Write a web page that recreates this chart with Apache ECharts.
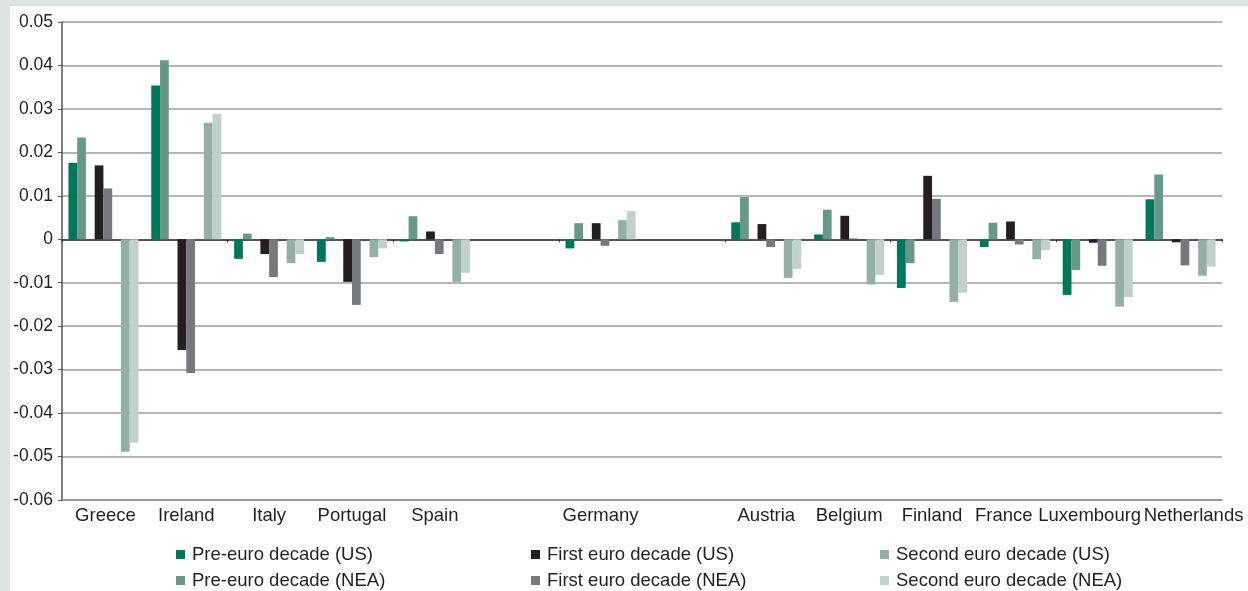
<!DOCTYPE html>
<html>
<head>
<meta charset="utf-8">
<script src="https://cdn.jsdelivr.net/npm/echarts@6/dist/echarts.min.js"></script>
<style>
    html, body { margin: 0; padding: 0; background: #dde4e1; }
    #wrap { position: relative; width: 1248px; height: 591px; background: #dde4e1; overflow: hidden; }
    #chart1 { position: absolute; left: 10px; top: 6px; width: 1238px; height: 585px; background: #ffffff; }
</style>
</head>
<body>
<div id="wrap"><div id="chart1"></div></div>
<script>
// categories ('' = spacer columns in the original layout)
var countries = ['Greece', 'Ireland', 'Italy', 'Portugal', 'Spain', '', 'Germany', '',
    'Austria', 'Belgium', 'Finland', 'France', 'Luxembourg', 'Netherlands'];

// values
var preUS = [0.0176, 0.0354, -0.0045, -0.0052, -0.0005, null, -0.0021, null,
    0.0039, 0.0011, -0.0112, -0.0018, -0.0128, 0.0092];
var preNEA = [0.0234, 0.0412, 0.0013, 0.0005, 0.0053, null, 0.0037, null,
    0.0097, 0.0068, -0.0055, 0.0038, -0.0071, 0.0149];
var firstUS = [0.0170, -0.0255, -0.0034, -0.0098, 0.0018, null, 0.0037, null,
    0.0035, 0.0054, 0.0146, 0.0041, -0.0008, -0.0007];
var firstNEA = [0.0117, -0.0308, -0.0087, -0.0151, -0.0034, null, -0.0015, null,
    -0.0018, 0.0002, 0.0093, -0.0012, -0.0061, -0.0060];
var secondUS = [-0.0489, 0.0268, -0.0055, -0.0041, -0.0098, null, 0.0044, null,
    -0.0089, -0.0104, -0.0144, -0.0046, -0.0155, -0.0084];
var secondNEA = [-0.0468, 0.0288, -0.0034, -0.0021, -0.0077, null, 0.0065, null,
    -0.0068, -0.0082, -0.0123, -0.0025, -0.0133, -0.0063];

var names = ['Pre-euro decade (US)', 'Pre-euro decade (NEA)',
    'First euro decade (US)', 'First euro decade (NEA)',
    'Second euro decade (US)', 'Second euro decade (NEA)'];
var colors = ['#00775a', '#66998a', '#231f20', '#77787b', '#93b0a6', '#c0d0ca'];

var chart1 = echarts.init(document.getElementById('chart1'));
var font = 'Liberation Sans, Arial, sans-serif';

// the last labels sit a bit off their columns in the original
var labelShift = { 'Greece': 'r4', 'France': 'l22', 'Luxembourg': 'l16', 'Netherlands': 'r26' };

function bar(name, data, color) {
    return {
        name: name,
        type: 'bar',
        xAxisIndex: 0,
        data: data,
        barGap: '0%',
        barCategoryGap: '15.5%',
        itemStyle: { color: color }
    };
}
// empty series keep the gap between each pair of bars
function spacer() {
    return { name: 'gap', type: 'bar', xAxisIndex: 0, data: [], barGap: '0%', barCategoryGap: '15.5%' };
}

function legendCol(left, items) {
    return {
        orient: 'vertical',
        left: left,
        top: 539,
        height: 50,
        padding: 0,
        itemWidth: 9,
        itemHeight: 9,
        itemGap: 7,
        icon: 'rect',
        data: items,
        selectedMode: false,
        textStyle: { color: '#231f20', fontSize: 18.5, lineHeight: 18, fontFamily: font, padding: [0, 0, 0, 2] }
    };
}

var richShift = {};
['l16', 'l22', 'r4', 'r26'].forEach(function (k) {
    var n = parseInt(k.slice(1), 10);
    richShift[k] = {
        fontSize: 18.5, fontFamily: font, color: '#231f20',
        padding: k[0] == 'l' ? [0, n, 0, 0] : [0, 0, 0, n]
    };
});

var option = {
    animation: false,
    color: colors,
    grid: { left: 52, right: 26, top: 16, bottom: 91, outerBoundsMode: 'none', containLabel: false },
    legend: [
        legendCol(166, [names[0], names[1]]),
        legendCol(521, [names[2], names[3]]),
        legendCol(870, [names[4], names[5]])
    ],
    xAxis: [{
        // bottom axis: country names
        type: 'category',
        data: countries,
        position: 'bottom',
        axisLine: { onZero: false, lineStyle: { color: '#8f8f8f', width: 1.5 } },
        axisTick: { show: false },
        axisLabel: {
            interval: 0,
            margin: 6,
            color: '#231f20',
            fontSize: 18.5,
            fontFamily: font,
            formatter: function (v) {
                if (labelShift[v]) return '{' + labelShift[v] + '|' + v + '}';
                return v;
            },
            rich: richShift
        }
    }, {
        // zero line with the category ticks
        type: 'category',
        data: countries,
        position: 'bottom',
        axisLine: { onZero: true, lineStyle: { color: '#333333', width: 1.5 } },
        axisTick: { show: true, length: 3, lineStyle: { color: '#333333' } },
        axisLabel: { show: false },
        splitLine: { show: false }
    }],
    yAxis: {
        type: 'value',
        min: -0.06,
        max: 0.05,
        interval: 0.01,
        axisLine: { show: true, lineStyle: { color: '#555555', width: 1.5 } },
        axisTick: { show: true, length: 4, lineStyle: { color: '#555555' } },
        splitLine: { lineStyle: { color: '#9d9d9d', width: 1.5 } },
        axisLabel: {
            margin: 9,
            color: '#231f20',
            fontSize: 17.5,
            fontFamily: font,
            formatter: function (v) {
                if (Math.abs(v) < 1e-9) return '0';
                return v.toFixed(2);
            }
        }
    },
    series: [
        bar(names[0], preUS, colors[0]),
        bar(names[1], preNEA, colors[1]),
        spacer(),
        bar(names[2], firstUS, colors[2]),
        bar(names[3], firstNEA, colors[3]),
        spacer(),
        bar(names[4], secondUS, colors[4]),
        bar(names[5], secondNEA, colors[5])
    ]
};
chart1.setOption(option, true);
</script>
</body>
</html>
